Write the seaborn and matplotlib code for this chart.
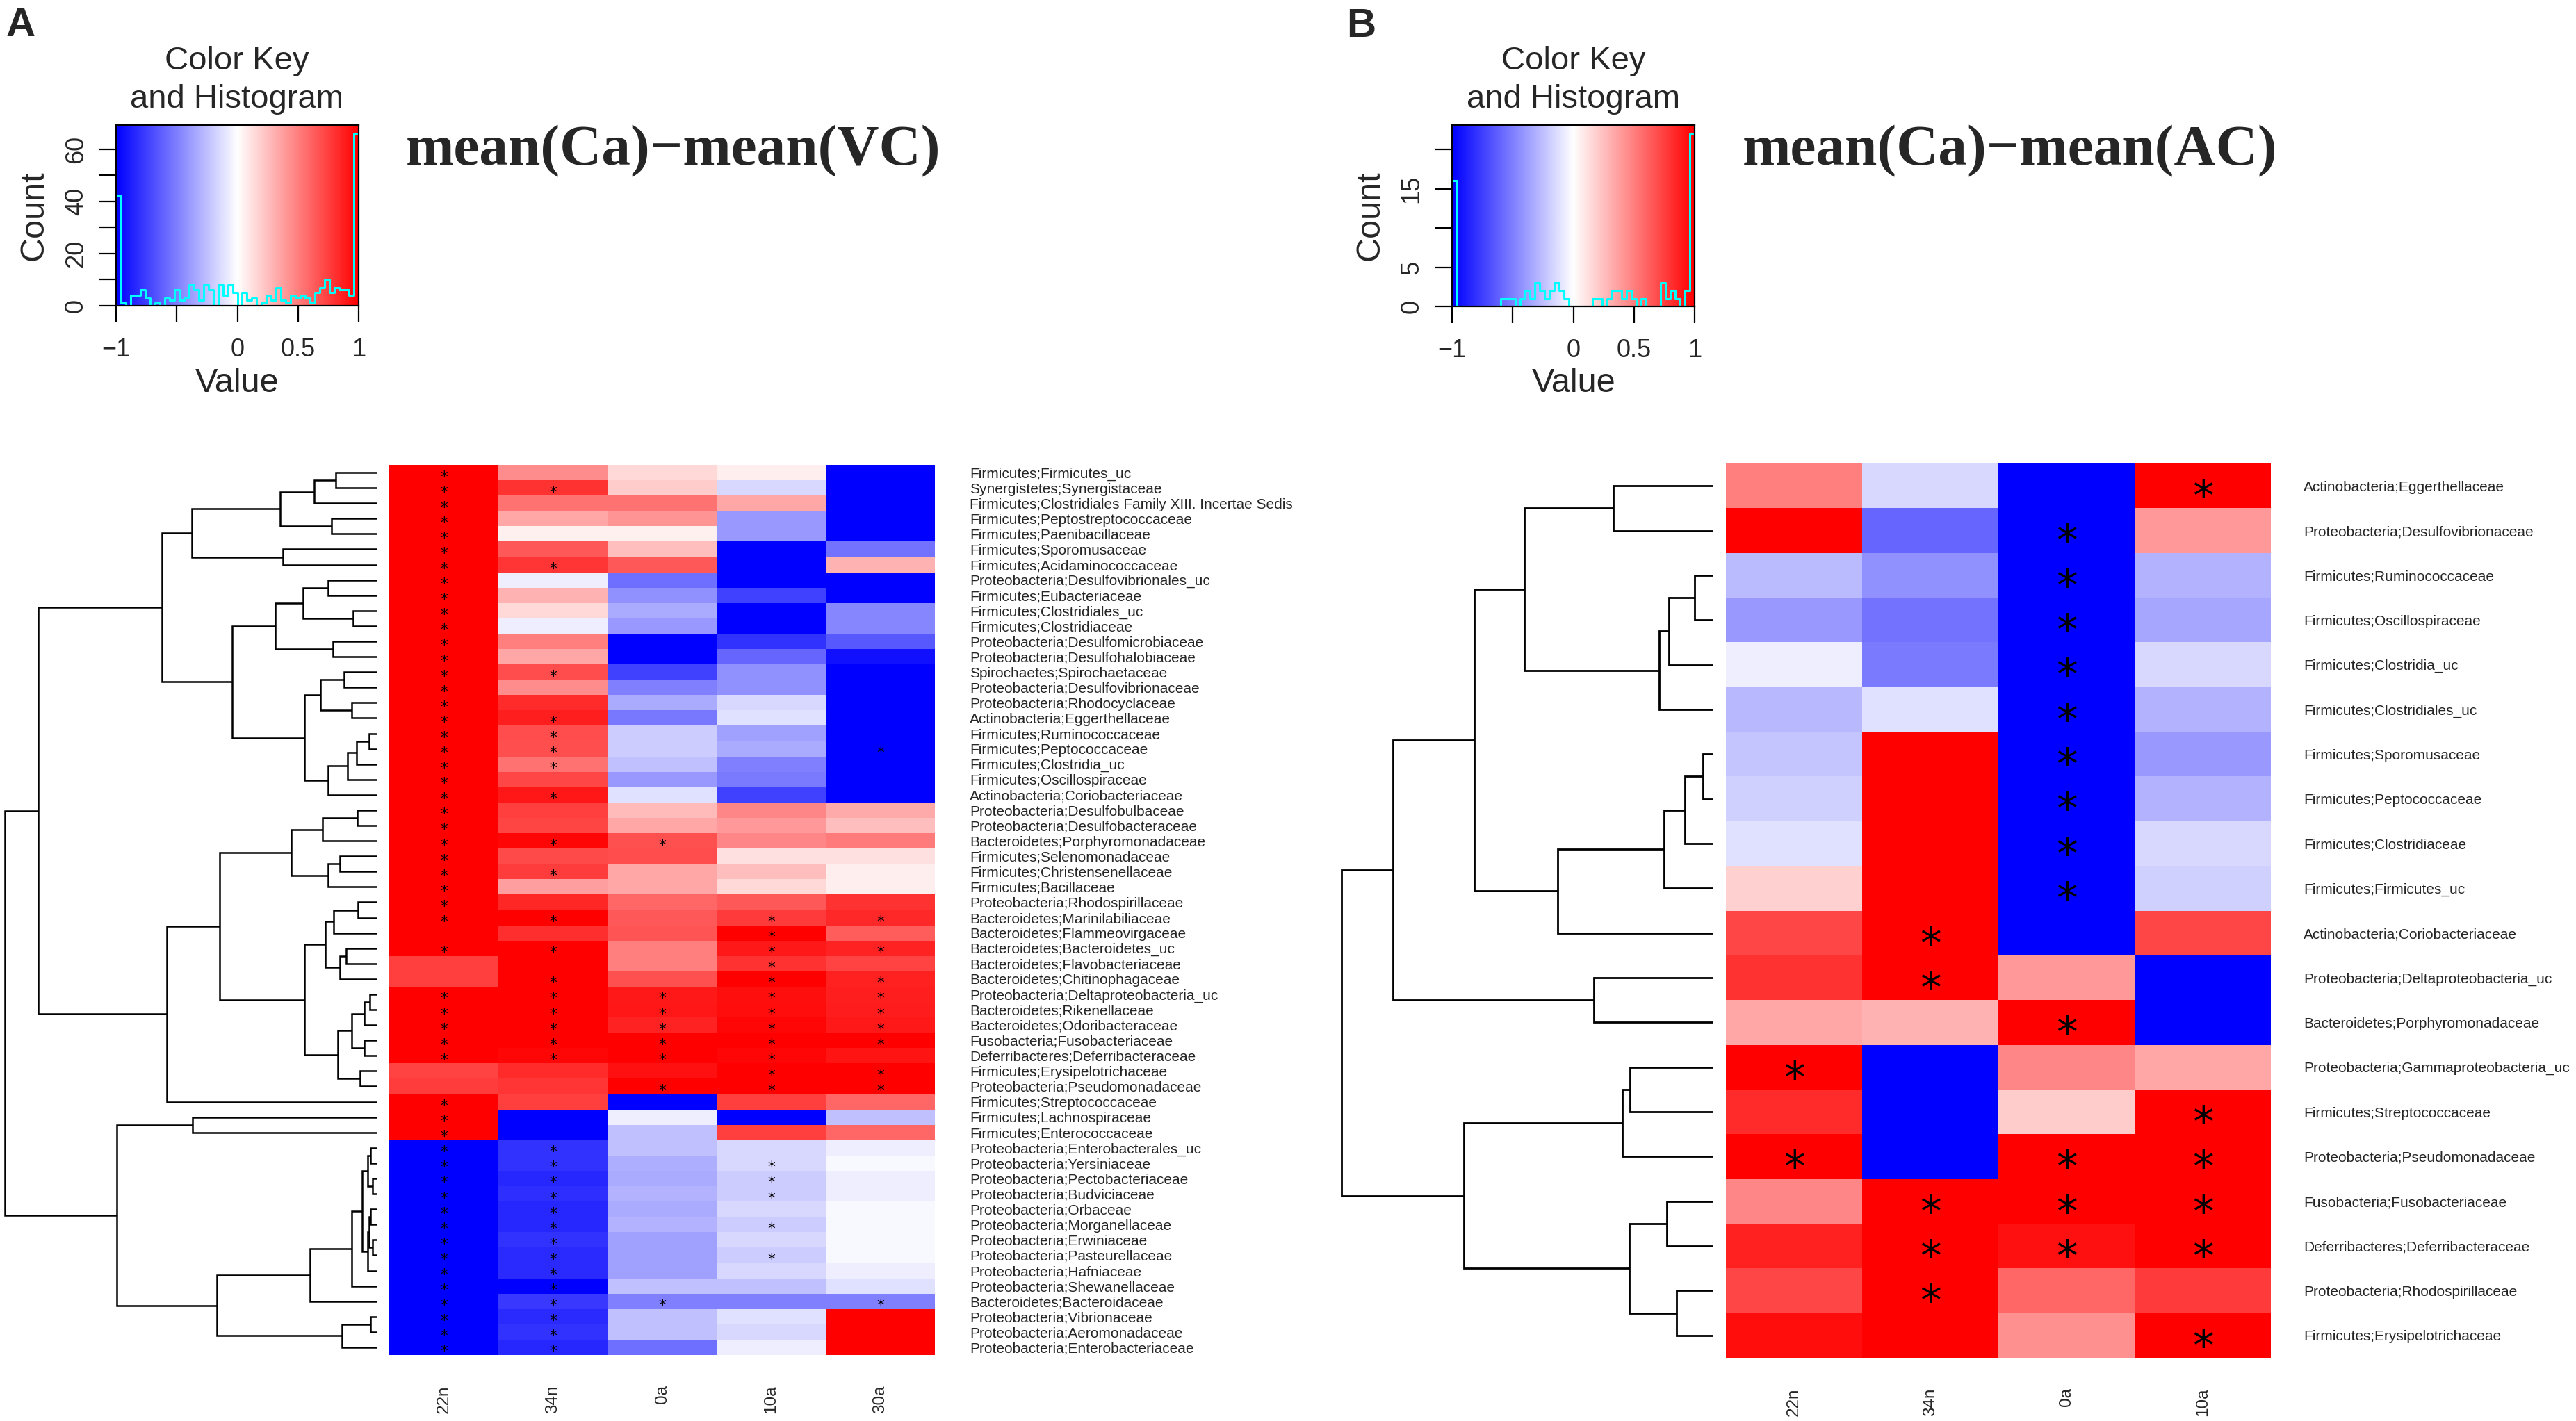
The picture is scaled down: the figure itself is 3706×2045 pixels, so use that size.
import numpy as np
import pandas as pd
import matplotlib
matplotlib.use("Agg")
import matplotlib.pyplot as plt
import matplotlib.transforms as mtrans
import seaborn as sns

sns.set_style("white")
plt.rcParams['font.family'] = ['Liberation Sans', 'DejaVu Sans']

# ---------------- data : panel A ----------------
cols_a = ["22n", "34n", "0a", "10a", "30a"]
rows_a = [
    "Firmicutes;Firmicutes_uc", "Synergistetes;Synergistaceae",
    "Firmicutes;Clostridiales Family XIII. Incertae Sedis", "Firmicutes;Peptostreptococcaceae",
    "Firmicutes;Paenibacillaceae", "Firmicutes;Sporomusaceae", "Firmicutes;Acidaminococcaceae",
    "Proteobacteria;Desulfovibrionales_uc", "Firmicutes;Eubacteriaceae", "Firmicutes;Clostridiales_uc",
    "Firmicutes;Clostridiaceae", "Proteobacteria;Desulfomicrobiaceae", "Proteobacteria;Desulfohalobiaceae",
    "Spirochaetes;Spirochaetaceae", "Proteobacteria;Desulfovibrionaceae", "Proteobacteria;Rhodocyclaceae",
    "Actinobacteria;Eggerthellaceae", "Firmicutes;Ruminococcaceae", "Firmicutes;Peptococcaceae",
    "Firmicutes;Clostridia_uc", "Firmicutes;Oscillospiraceae", "Actinobacteria;Coriobacteriaceae",
    "Proteobacteria;Desulfobulbaceae", "Proteobacteria;Desulfobacteraceae", "Bacteroidetes;Porphyromonadaceae",
    "Firmicutes;Selenomonadaceae", "Firmicutes;Christensenellaceae", "Firmicutes;Bacillaceae",
    "Proteobacteria;Rhodospirillaceae", "Bacteroidetes;Marinilabiliaceae", "Bacteroidetes;Flammeovirgaceae",
    "Bacteroidetes;Bacteroidetes_uc", "Bacteroidetes;Flavobacteriaceae", "Bacteroidetes;Chitinophagaceae",
    "Proteobacteria;Deltaproteobacteria_uc", "Bacteroidetes;Rikenellaceae", "Bacteroidetes;Odoribacteraceae",
    "Fusobacteria;Fusobacteriaceae", "Deferribacteres;Deferribacteraceae", "Firmicutes;Erysipelotrichaceae",
    "Proteobacteria;Pseudomonadaceae", "Firmicutes;Streptococcaceae", "Firmicutes;Lachnospiraceae",
    "Firmicutes;Enterococcaceae", "Proteobacteria;Enterobacterales_uc", "Proteobacteria;Yersiniaceae",
    "Proteobacteria;Pectobacteriaceae", "Proteobacteria;Budviciaceae", "Proteobacteria;Orbaceae",
    "Proteobacteria;Morganellaceae", "Proteobacteria;Erwiniaceae", "Proteobacteria;Pasteurellaceae",
    "Proteobacteria;Hafniaceae", "Proteobacteria;Shewanellaceae", "Bacteroidetes;Bacteroidaceae",
    "Proteobacteria;Vibrionaceae", "Proteobacteria;Aeromonadaceae", "Proteobacteria;Enterobacteriaceae",
]
vals_a = [
    [1, 0.45, 0.15, 0.07, -1], [1, 0.80, 0.20, -0.15, -1], [1, 0.55, 0.55, 0.35, -1],
    [1, 0.35, 0.42, -0.40, -1], [1, 0.06, 0.06, -0.40, -1], [1, 0.65, 0.25, -1, -0.55],
    [1, 0.79, 0.65, -1, 0.30], [1, -0.07, -0.57, -1, -1], [1, 0.30, -0.43, -0.75, -1],
    [1, 0.15, -0.33, -1, -0.47], [1, -0.07, -0.40, -1, -0.47], [1, 0.50, -1, -0.80, -0.65],
    [1, 0.35, -1, -0.60, -0.93], [1, 0.70, -0.75, -0.43, -1], [1, 0.45, -0.50, -0.43, -1],
    [1, 0.83, -0.33, -0.15, -1], [1, 0.88, -0.53, -0.12, -1], [1, 0.70, -0.20, -0.37, -1],
    [1, 0.69, -0.20, -0.33, -1], [1, 0.55, -0.25, -0.50, -1], [1, 0.72, -0.40, -0.52, -1],
    [1, 0.91, -0.12, -0.75, -1], [1, 0.75, 0.27, 0.47, 0.33], [1, 0.73, 0.35, 0.40, 0.25],
    [1, 0.97, 0.68, 0.47, 0.52], [1, 0.71, 0.70, 0.12, 0.12], [1, 0.76, 0.35, 0.25, 0.07],
    [1, 0.38, 0.35, 0.15, 0.07], [1, 0.85, 0.60, 0.65, 0.80], [1, 1, 0.65, 0.77, 0.84],
    [1, 0.82, 0.67, 1, 0.64], [1, 1, 0.50, 0.90, 0.86], [0.75, 1, 0.50, 0.80, 0.74],
    [0.75, 1, 0.68, 1, 0.87], [1, 1, 0.90, 0.94, 0.88], [1, 1, 0.91, 0.95, 0.89],
    [1, 1, 0.86, 0.97, 0.90], [1, 1, 1, 1, 1], [1, 0.97, 1, 0.97, 0.92],
    [0.74, 0.83, 0.93, 1, 1], [0.76, 0.79, 1, 1, 1], [1, 0.75, -1, 0.75, 0.60],
    [1, -1, -0.07, -1, -0.25], [1, -1, -0.25, 0.75, 0.60], [-1, -0.80, -0.25, -0.15, -0.07],
    [-1, -0.80, -0.32, -0.15, -0.03], [-1, -0.85, -0.33, -0.20, -0.07], [-1, -0.82, -0.30, -0.20, -0.07],
    [-1, -0.85, -0.33, -0.15, -0.03], [-1, -0.85, -0.30, -0.20, -0.03], [-1, -0.80, -0.37, -0.15, -0.03],
    [-1, -0.83, -0.37, -0.20, -0.03], [-1, -0.83, -0.37, -0.15, -0.07], [-1, -1, -0.25, -0.25, -0.12],
    [-1, -0.78, -0.50, -0.50, -0.50], [-1, -0.83, -0.25, -0.12, 1], [-1, -0.80, -0.25, -0.15, 1],
    [-1, -0.85, -0.57, -0.07, 1],
]
stars_a = [
    "*....", "**...", "*....", "*....", "*....", "*....", "**...", "*....", "*....", "*....",
    "*....", "*....", "*....", "**...", "*....", "*....", "**...", "**...", "**..*", "**...",
    "*....", "**...", "*....", "*....", "***..", "*....", "**...", "*....", "*....", "**.**",
    "...*.", "**.**", "...*.", ".*.**", "*****", "*****", "*****", "*****", "****.", "...**",
    "..***", "*....", "*....", "*....", "**...", "**.*.", "**.*.", "**.*.", "**...", "**.*.",
    "**...", "**.*.", "**...", "**...", "***.*", "**...", "**...", "**...",
]

# ---------------- data : panel B ----------------
cols_b = ["22n", "34n", "0a", "10a"]
rows_b = [
    "Actinobacteria;Eggerthellaceae", "Proteobacteria;Desulfovibrionaceae", "Firmicutes;Ruminococcaceae",
    "Firmicutes;Oscillospiraceae", "Firmicutes;Clostridia_uc", "Firmicutes;Clostridiales_uc",
    "Firmicutes;Sporomusaceae", "Firmicutes;Peptococcaceae", "Firmicutes;Clostridiaceae",
    "Firmicutes;Firmicutes_uc", "Actinobacteria;Coriobacteriaceae", "Proteobacteria;Deltaproteobacteria_uc",
    "Bacteroidetes;Porphyromonadaceae", "Proteobacteria;Gammaproteobacteria_uc", "Firmicutes;Streptococcaceae",
    "Proteobacteria;Pseudomonadaceae", "Fusobacteria;Fusobacteriaceae", "Deferribacteres;Deferribacteraceae",
    "Proteobacteria;Rhodospirillaceae", "Firmicutes;Erysipelotrichaceae",
]
vals_b = [
    [0.50, -0.15, -1, 1], [1, -0.60, -1, 0.40], [-0.27, -0.43, -1, -0.30], [-0.40, -0.55, -1, -0.35],
    [-0.07, -0.52, -1, -0.15], [-0.28, -0.12, -1, -0.30], [-0.23, 1, -1, -0.40], [-0.18, 1, -1, -0.30],
    [-0.12, 1, -1, -0.15], [0.18, 1, -1, -0.18], [0.72, 1, -1, 0.72], [0.80, 1, 0.40, -1],
    [0.35, 0.30, 1, -1], [1, -1, 0.47, 0.35], [0.83, -1, 0.20, 1], [1, -1, 1, 1],
    [0.47, 1, 1, 1], [0.87, 1, 0.93, 1], [0.72, 1, 0.60, 0.77], [0.95, 1, 0.43, 1],
]
stars_b = [
    "...*", "..*.", "..*.", "..*.", "..*.", "..*.", "..*.", "..*.", "..*.", "..*.",
    ".*..", ".*..", "..*.", "*...", "...*", "*.**", ".***", ".***", ".*..", "...*",
]

# ---------------- dendrograms (height, left, right); leaves = row index ----------------
tree_a = (1.0,
          (0.911,
           (0.578,
            (0.498, (0.260, (0.168, (0.111, 0, 1), 2), (0.121, 3, 4)), (0.253, 5, 6)),
            (0.388,
             (0.273, (0.199, (0.130, 7, 8), (0.064, 9, 10)), (0.118, 11, 12)),
             (0.194, (0.152, (0.087, 13, 14), (0.067, 15, 16)),
              (0.130, (0.078, (0.055, (0.021, 17, 18), 19), 20), 21)))),
           (0.564,
            (0.422,
             (0.230, (0.145, (0.052, 22, 23), 24), (0.131, (0.100, 25, 26), 27)),
             (0.194,
              (0.138, (0.116, (0.051, 28, 29), 30), (0.100, (0.082, 31, 32), 33)),
              (0.105, (0.068, (0.033, (0.019, 34, 35), 36), (0.033, 37, 38)), (0.044, 39, 40)))),
            41)),
          (0.699,
           (0.496, 42, 43),
           (0.429,
            (0.179, (0.068, (0.040, (0.024, (0.017, 44, 45), (0.012, 46, 47)),
                             (0.024, (0.021, (0.017, 48, 49), (0.012, 50, 51)), 52)), 53), 54),
            (0.093, (0.017, 55, 56), 57))))
tree_b = (1.0,
          (0.861,
           (0.642,
            (0.507, (0.268, 0, 1), (0.145, (0.118, (0.049, 2, 3), 4), 5)),
            (0.417, (0.132, (0.075, (0.027, 6, 7), 8), 9), 10)),
           (0.320, 11, 12)),
          (0.671,
           (0.243, (0.223, 13, 14), 15),
           (0.225, (0.123, 16, 17), (0.097, 18, 19))))

key_ticks = [-1, -0.5, 0, 0.5, 1]
key_ticklabels = ["\u22121", "", "0", "0.5", "1"]
count_ticks_a = [0, 10, 20, 30, 40, 50, 60]
count_labels_a = ["0", "", "20", "", "40", "", "60"]
count_ticks_b = [0, 5, 10, 15, 20]
count_labels_b = ["0", "5", "", "15", ""]

# ---------------- figure ----------------
W, H = 3706, 2045
fig = plt.figure(figsize=(W / 100, H / 100), dpi=100)


def add_ax(x0, y0, x1, y1):
    return fig.add_axes([x0 / W, 1 - y1 / H, (x1 - x0) / W, (y1 - y0) / H])


def draw_tree(ax, node, lw):
    if isinstance(node, int):
        return 0.0, node + 0.5
    h, left, right = node
    hl, yl = draw_tree(ax, left, lw)
    hr, yr = draw_tree(ax, right, lw)
    ax.plot([hl, h, h, hr], [yl, yl, yr, yr], color="black", lw=lw,
            solid_capstyle="butt", solid_joinstyle="miter", clip_on=False)
    return h, (yl + yr) / 2


def draw_dendro(ax, tree, n, lw):
    draw_tree(ax, tree, lw)
    ax.set_xlim(1.0, 0.0)
    ax.set_ylim(n, 0)
    ax.axis("off")


def draw_heat(ax, vals, rows, cols, stars, star_fs, ypad, xpad):
    df = pd.DataFrame(vals, index=rows, columns=cols)
    annot = np.array([[("*" if c == "*" else "") for c in s] for s in stars])
    sns.heatmap(df, ax=ax, cmap="bwr", vmin=-1, vmax=1, cbar=False,
                annot=annot, fmt="", xticklabels=True, yticklabels=True,
                annot_kws=dict(fontsize=star_fs, color="black", family="DejaVu Sans"))
    shift = mtrans.ScaledTranslation(0, -0.30 * star_fs / 72, fig.dpi_scale_trans)
    for t in ax.texts:
        t.set_transform(t.get_transform() + shift)
    ax.yaxis.tick_right()
    ax.tick_params(axis="y", length=0, pad=ypad, labelsize=15, labelrotation=0,
                   right=False, left=False, labelright=True, labelleft=False)
    ax.tick_params(axis="x", length=0, pad=xpad, labelsize=17.5, labelrotation=90)
    ax.set_xlabel("")
    ax.set_ylabel("")


def draw_key(ax, values, yticks, ylabels, cx, count_x):
    values = np.asarray(values, dtype=float).ravel()
    bins = np.linspace(-1, 1, 51)
    counts, _ = np.histogram(values, bins=bins)
    ymax = counts.max() * 1.05
    ax.imshow(np.linspace(-1, 1, 256)[None, :], cmap="bwr", vmin=-1, vmax=1,
              aspect="auto", extent=(-1, 1, 0, ymax), interpolation="bilinear", zorder=0)
    sns.histplot(x=values, bins=bins, element="step", fill=False, color="#00FFFF",
                 linewidth=2.2, ax=ax)
    ax.set_xlim(-1, 1)
    ax.set_ylim(0, ymax)
    ax.set_xticks(key_ticks)
    ax.set_xticklabels(key_ticklabels)
    ax.set_yticks(yticks)
    ax.set_yticklabels(ylabels, rotation=90, va="center")
    ax.tick_params(axis="both", direction="out", length=17, width=1.6, color="black",
                   labelsize=26, bottom=True, left=True)
    ax.tick_params(axis="x", pad=16)
    ax.tick_params(axis="y", pad=12)
    ax.set_xlabel("")
    ax.set_ylabel("")
    for s in ax.spines.values():
        s.set_visible(True)
        s.set_color("black")
        s.set_linewidth(1.6)
    fig.text(cx / W, 1 - 88 / H, "Color Key", fontsize=34, ha="center", va="center")
    fig.text(cx / W, 1 - 143 / H, "and Histogram", fontsize=34, ha="center", va="center")
    fig.text(cx / W, 1 - 551 / H, "Value", fontsize=35, ha="center", va="center")
    fig.text(count_x / W, 1 - 310 / H, "Count", fontsize=35, ha="center", va="center",
             rotation=90)


# ---- panel A ----
key_a = add_ax(167, 180, 516, 440)
draw_key(key_a, vals_a, count_ticks_a, count_labels_a, 341, 49)
dend_a = add_ax(7, 669, 542, 1950)
draw_dendro(dend_a, tree_a, len(rows_a), 1.8)
heat_a = add_ax(560, 669, 1345, 1950)
draw_heat(heat_a, vals_a, rows_a, cols_a, stars_a, 15.5, 36, 31)
fig.text(9 / W, 1 - 10 / H, "A", fontsize=42, fontweight="bold", ha="left", va="top")
fig.text(584 / W, 1 - 237 / H, "mean(Ca)\u2212mean(VC)", fontsize=60, fontweight="bold",
         family="Liberation Serif", ha="left", va="baseline")

# ---- panel B ----
key_b = add_ax(2089, 180, 2438, 441)
draw_key(key_b, vals_b, count_ticks_b, count_labels_b, 2264, 1971)
dend_b = add_ax(1930, 667, 2464, 1954)
draw_dendro(dend_b, tree_b, len(rows_b), 2.0)
heat_b = add_ax(2483, 667, 3267, 1954)
draw_heat(heat_b, vals_b, rows_b, cols_b, stars_b, 44, 34, 31)
fig.text(1937 / W, 1 - 11 / H, "B", fontsize=42, fontweight="bold", ha="left", va="top")
fig.text(2507 / W, 1 - 237 / H, "mean(Ca)\u2212mean(AC)", fontsize=60, fontweight="bold",
         family="Liberation Serif", ha="left", va="baseline")

fig.savefig("out.png", dpi=100)
